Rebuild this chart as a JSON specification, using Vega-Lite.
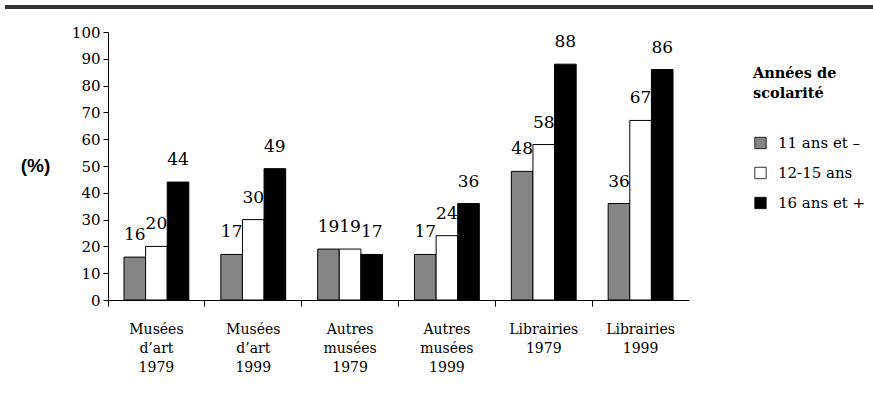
{
  "$schema": "https://vega.github.io/schema/vega-lite/v6.json",
  "autosize": "none",
  "padding": {"left": 108, "top": 32, "right": 184, "bottom": 106},
  "width": 581,
  "height": 268,
  "background": "white",
  "config": {
    "view": {"stroke": null},
    "font": "DejaVu Serif"
  },
  "data": {
    "values": [
      {"cat": "Musées|d’art|1979", "grp": "11 ans et –", "v": 16},
      {"cat": "Musées|d’art|1979", "grp": "12-15 ans", "v": 20},
      {"cat": "Musées|d’art|1979", "grp": "16 ans et +", "v": 44},
      {"cat": "Musées|d’art|1999", "grp": "11 ans et –", "v": 17},
      {"cat": "Musées|d’art|1999", "grp": "12-15 ans", "v": 30},
      {"cat": "Musées|d’art|1999", "grp": "16 ans et +", "v": 49},
      {"cat": "Autres|musées|1979", "grp": "11 ans et –", "v": 19},
      {"cat": "Autres|musées|1979", "grp": "12-15 ans", "v": 19},
      {"cat": "Autres|musées|1979", "grp": "16 ans et +", "v": 17},
      {"cat": "Autres|musées|1999", "grp": "11 ans et –", "v": 17},
      {"cat": "Autres|musées|1999", "grp": "12-15 ans", "v": 24},
      {"cat": "Autres|musées|1999", "grp": "16 ans et +", "v": 36},
      {"cat": "Librairies|1979", "grp": "11 ans et –", "v": 48},
      {"cat": "Librairies|1979", "grp": "12-15 ans", "v": 58},
      {"cat": "Librairies|1979", "grp": "16 ans et +", "v": 88},
      {"cat": "Librairies|1999", "grp": "11 ans et –", "v": 36},
      {"cat": "Librairies|1999", "grp": "12-15 ans", "v": 67},
      {"cat": "Librairies|1999", "grp": "16 ans et +", "v": 86}
    ]
  },
  "encoding": {
    "x": {
      "field": "cat",
      "type": "nominal",
      "sort": null,
      "scale": {"paddingInner": 0, "paddingOuter": 0},
      "axis": {
        "title": null,
        "labelAngle": 0,
        "labelExpr": "split(datum.label, '|')",
        "labelFont": "DejaVu Serif",
        "labelFontSize": 14,
        "labelColor": "#000",
        "labelLineHeight": 19,
        "labelPadding": 16,
        "labelBaseline": "top",
        "bandPosition": 0,
        "tickSize": 6,
        "tickColor": "#000",
        "domainColor": "#000",
        "labelAlign": "center"
      }
    },
    "xOffset": {
      "field": "grp",
      "type": "nominal",
      "sort": ["11 ans et –", "12-15 ans", "16 ans et +"],
      "scale": {"paddingInner": 0, "paddingOuter": 0.74}
    },
    "y": {
      "field": "v",
      "type": "quantitative",
      "scale": {"domain": [0, 100]},
      "axis": {
        "title": "(%)",
        "titleAngle": 0,
        "titleFont": "Liberation Sans",
        "titleFontWeight": "bold",
        "titleFontSize": 19,
        "titleColor": "#000",
        "titleX": -73,
        "titleY": 133,
        "titleAlign": "center",
        "titleBaseline": "middle",
        "values": [0, 10, 20, 30, 40, 50, 60, 70, 80, 90, 100],
        "grid": false,
        "labelFont": "DejaVu Serif",
        "labelFontSize": 15,
        "labelColor": "#000",
        "labelPadding": 3,
        "tickSize": 5,
        "tickColor": "#000",
        "domainColor": "#000"
      }
    }
  },
  "layer": [
    {
      "mark": {"type": "bar", "stroke": "#000", "strokeWidth": 1},
      "encoding": {
        "fill": {
          "field": "grp",
          "type": "nominal",
          "scale": {
            "domain": ["11 ans et –", "12-15 ans", "16 ans et +"],
            "range": ["#858585", "#ffffff", "#000000"]
          },
          "legend": {
            "orient": "none",
            "legendX": 645,
            "legendY": 35,
            "title": ["Années de", "scolarité"],
            "titleFont": "DejaVu Serif",
            "titleFontWeight": "bold",
            "titleFontSize": 14.5,
            "titleLineHeight": 20,
            "titleColor": "#000",
            "titlePadding": 34,
            "labelFont": "DejaVu Serif",
            "labelFontSize": 15,
            "labelColor": "#000",
            "labelOffset": 10,
            "symbolType": "square",
            "symbolSize": 130,
            "symbolStrokeColor": "#000",
            "symbolStrokeWidth": 0.8,
            "rowPadding": 14
          }
        }
      }
    },
    {
      "mark": {"type": "text", "font": "DejaVu Serif", "fontSize": 17, "baseline": "alphabetic", "dy": -17, "color": "#000"},
      "encoding": {
        "text": {"field": "v", "type": "quantitative"}
      }
    },
    {
      "mark": {"type": "rule", "stroke": "#333", "strokeWidth": 3, "clip": false, "x": -103, "x2": 765},
      "encoding": {
        "y": {"datum": 109.3},
        "x": null,
        "xOffset": null
      }
    }
  ]
}
